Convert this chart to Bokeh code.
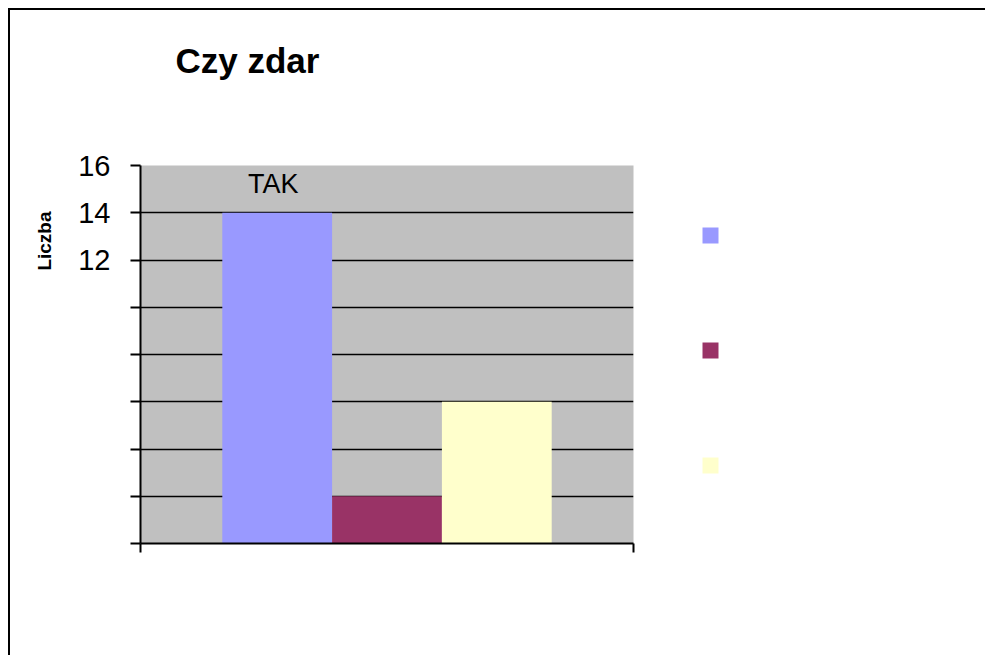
from bokeh.plotting import figure
from bokeh.models import (Range1d, FixedTicker, Legend, LegendItem, Title)
from bokeh.core.properties import value
from bokeh.embed import file_html
from bokeh.resources import INLINE

# ---- data ----
title_text = "Czy zdar"
series_names = ["TAK", "NIE", "NIE WIEM"]
series_values = [14, 2, 6]
series_colors = ["#9999FF", "#993366", "#FFFFCC"]
y_ticks = [0, 2, 4, 6, 8, 10, 12, 14, 16]
y_tick_labels = {0: "", 2: "", 4: "", 6: "", 8: "", 10: "", 12: "12", 14: "14", 16: "16"}
y_axis_title = "Liczba"
bar_label = "TAK"

FONT = "Liberation Sans"

pad = 0.745
x_start = -0.5 - pad
x_end = len(series_values) - 0.5 + pad

p = figure(frame_width=493, frame_height=378, output_backend="svg", toolbar_location=None,
           x_range=Range1d(x_start, x_end), y_range=Range1d(0, 16),
           min_border_left=130, min_border_top=155, min_border_right=20,
           min_border_bottom=112)
p.styles = {"border-top": "2px solid black", "border-left": "2px solid black",
            "margin-left": "8px", "margin-top": "8px"}
p.background_fill_color = "#C0C0C0"
p.border_fill_color = "white"
p.outline_line_color = None

renderers = []
for i in range(len(series_values)):
    r = p.vbar(x=[i], top=[series_values[i]], bottom=0, width=1.0,
               fill_color=series_colors[i], line_color=None)
    renderers.append(r)

p.text(x=[0], y=[series_values[0]], text=[bar_label], text_align="center",
       text_baseline="alphabetic", y_offset=-29, x_offset=-4, text_font=value(FONT),
       text_font_size="27px", text_color="black")

# grid
p.xgrid.visible = False
p.ygrid.ticker = FixedTicker(ticks=y_ticks)
p.ygrid.grid_line_color = "black"
p.ygrid.grid_line_width = 1.5

# y axis
p.yaxis.ticker = FixedTicker(ticks=y_ticks)
p.yaxis.major_label_overrides = {k: v for k, v in y_tick_labels.items()}
p.yaxis.major_label_text_font = FONT
p.yaxis.major_label_text_font_size = "29px"
p.yaxis.major_label_text_color = "black"
p.yaxis.major_label_standoff = 20
p.yaxis.major_tick_out = 10
p.yaxis.major_tick_in = 0
p.yaxis.minor_tick_line_color = None
p.yaxis.axis_line_width = 2
p.yaxis.major_tick_line_width = 2
p.yaxis.axis_line_color = "black"

# x axis
p.xaxis.ticker = FixedTicker(ticks=[x_start, x_end])
p.xaxis.major_label_overrides = {x_start: "", x_end: ""}
p.xaxis.major_tick_out = 9
p.xaxis.major_tick_in = 0
p.xaxis.minor_tick_line_color = None
p.xaxis.axis_line_width = 2
p.xaxis.major_tick_line_width = 2
p.xaxis.axis_line_color = "black"

# spacer between frame and title (nearest the frame)
p.add_layout(Title(text=" ", text_font_size="10px", standoff=68), "above")

# main title (outermost)
p.title.text = title_text
p.title.align = "left"
p.title.offset = 35
p.title.text_font = FONT
p.title.text_font_size = "35px"
p.title.text_font_style = "bold"
p.title.text_color = "black"
p.title.standoff = 10

# y axis title as a left-side title
p.add_layout(Title(text=y_axis_title, align="right", offset=46, text_font=FONT,
                   text_font_size="19px", text_font_style="bold",
                   text_color="black", standoff=42), "left")

# legend (squares only)
items = [LegendItem(label=value(" "), renderers=[r]) for r in renderers]
legend = Legend(items=items, location=(67, 68), glyph_width=20, glyph_height=20,
                label_height=20, label_width=1, spacing=95, padding=0, margin=0,
                border_line_color=None, background_fill_alpha=0,
                label_text_font_size="10px", label_standoff=0)
p.add_layout(legend, "right")

open("out.html", "w").write(file_html(p, INLINE))
